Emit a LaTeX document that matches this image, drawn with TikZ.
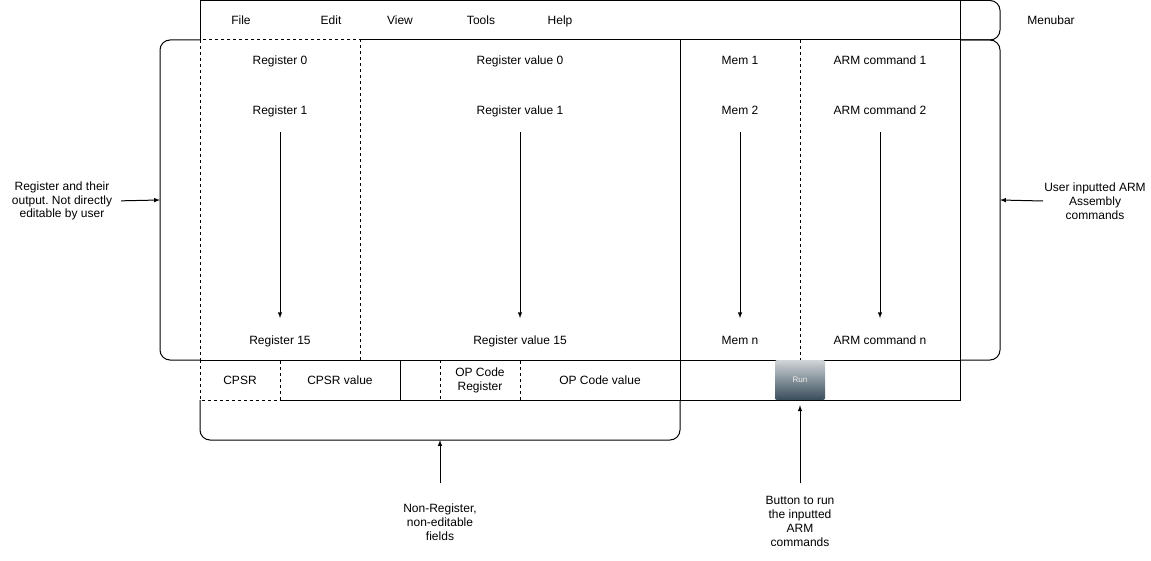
\documentclass[tikz,border=0pt]{standalone}
\usepackage{fontspec}
\setmainfont{Liberation Sans}
\usetikzlibrary{positioning, calc, arrows}
\definecolor{RunTop}{RGB}{208,213,216}
\definecolor{RunBot}{RGB}{56,76,90}
\frenchspacing

\begin{document}
\begin{tikzpicture}[x=1pt,y=-1pt]
        \tikzset{ lbl/.style   ={font=\fontsize{12}{14}\selectfont, text=black, inner sep=1pt, text height=10.9pt, text depth=2.5pt} }
        \tikzset{ note/.style  ={font=\fontsize{12}{13.8}\selectfont, text=black, inner sep=1pt, align=center} }
        \tikzset{ cell/.style  ={draw=black, line width=1pt} }
        \tikzset{ dcell/.style ={draw=black, line width=1pt, dash pattern=on 3pt off 3pt} }
        \tikzset{ brace/.style ={draw=black, line width=1pt, rounded corners=10pt} }
        \tikzset{ runbtn/.style={rounded corners=2pt, top color=RunTop, bottom color=RunBot, minimum width=50pt, minimum height=40pt, inner sep=0pt, text=white!88!gray, font=\fontsize{8}{9.6}\selectfont} }
        \tikzset{ colarr/.style={->, >=latex, line width=1pt, shorten <=14pt, shorten >=14pt} }

        \useasboundingbox (0,0) rectangle (1151,561);

        % menubar
        \draw[cell] (360,40) -- (960,40) -- (960,0.5) -- (200,0.5) -- (200,40);
        \node[lbl] (file)  at (241,20) {File};
        \node[lbl] (edit)  at (331,20) {Edit};
        \node[lbl] (view)  at (400,20) {View};
        \node[lbl] (tools) at (481,20) {Tools};
        \node[lbl] (help)  at (560,20) {Help};

        % register area
        \draw[dcell] (200,40) rectangle (360,360);
        \draw[dcell] (800,40) -- (800,360);
        \draw[cell] (200,360) -- (960,360) -- (960,40);
        \draw[cell] (680,40) -- (680,400);

        \node[lbl] (reg0)  at (280,60)  {Register 0};
        \node[lbl] (reg1)  at (280,110) {Register 1};
        \node[lbl] (reg15) at (280,340) {Register 15};

        \node[lbl] (regv0)  at (520,60)  {Register value 0};
        \node[lbl] (regv1)  at (520,110) {Register value 1};
        \node[lbl] (regv15) at (520,340) {Register value 15};

        \node[lbl] (mem1) at (740,60)  {Mem 1};
        \node[lbl] (mem2) at (740,110) {Mem 2};
        \node[lbl] (memn) at (740,340) {Mem n};

        \node[lbl] (arm1) at (880,60)  {ARM command 1};
        \node[lbl] (arm2) at (880,110) {ARM command 2};
        \node[lbl] (armn) at (880,340) {ARM command n};

        \draw[colarr] (reg1)  -- (reg15);
        \draw[colarr] (regv1) -- (regv15);
        \draw[colarr] (mem2)  -- (memn);
        \draw[colarr] (arm2)  -- (armn);

        % bottom row
        \draw[cell] (280,400) -- (960,400) -- (960,360);
        \draw[cell] (400,360) -- (400,400);
        \draw[dcell] (200,360) rectangle (280,400);
        \draw[dcell] (440,360) rectangle (520,400);

        \node[lbl] (cpsr)  at (240,380) {CPSR};
        \node[lbl] (cpsrv) at (340,380) {CPSR value};
        \node[note] (opreg) at (480,380.5) {OP Code\\Register};
        \node[lbl] (opv)   at (600,380) {OP Code value};
        \node[runbtn] (run) at (800,380) {Run};

        % braces
        \draw[brace] (960,0.5) -- (1000,0.5) -- (1000,40) -- (960,40);
        \draw[brace] (960,40) -- (1000,40) -- (1000,360) -- (960,360);
        \draw[brace] (200,40) -- (160,40) -- (160,360) -- (200,360);
        \draw[brace] (200,400) -- (200,440) -- (680,440) -- (680,400);

        \coordinate (lbrace) at (160,200);
        \coordinate (rbrace) at (1000,200);
        \coordinate (bbrace) at (440,440);

        % notes
        \node[lbl] (menunote) at (1051,20) {Menubar};
        \node[note] (regnote)  at (62,201)    {Register and their\\output. Not directly\\editable by user};
        \node[note] (armnote)  at (1095,201)  {User inputted ARM\\Assembly\\commands};
        \node[note] (fldnote)  at (440,522.5) {Non-Register,\\non-editable\\fields};
        \node[note] (runnote)  at (800,521.5) {Button to run\\the inputted\\ARM\\commands};

        \draw[->,>=latex,line width=1pt,shorten <=8pt] (regnote.east) -- (lbrace);
        \draw[->,>=latex,line width=1pt] (armnote.west) -- (rbrace);
        \draw[->,>=latex,line width=1pt,shorten <=20pt] (fldnote.north) -- (bbrace);
        \draw[->,>=latex,line width=1pt,shorten <=12pt,shorten >=5pt] (runnote.north) -- (run.south);
      \end{tikzpicture}
\end{document}
